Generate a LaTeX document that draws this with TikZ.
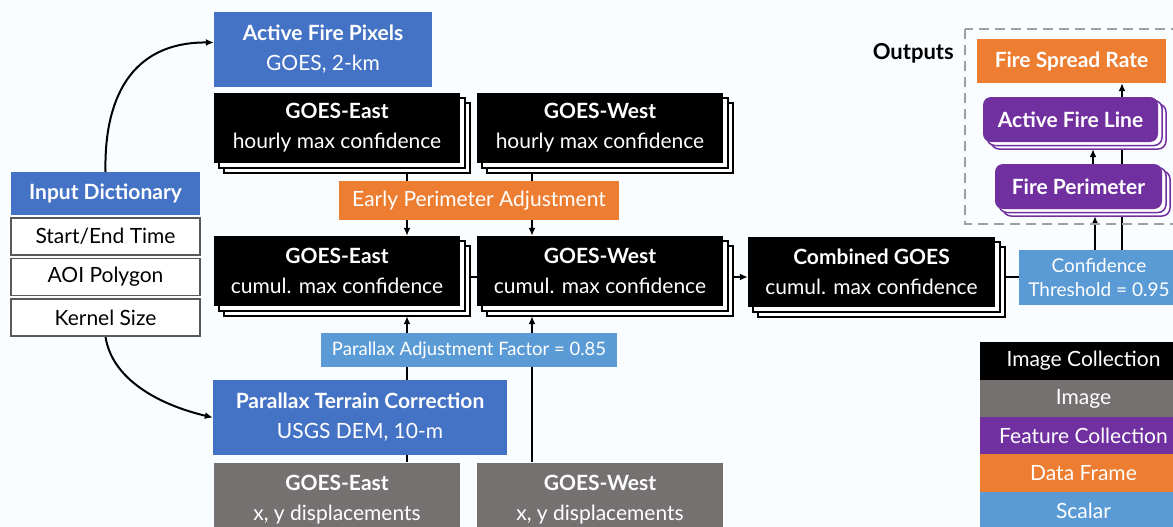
\documentclass[tikz,border=0pt]{standalone}
\usepackage{fontspec}
\setmainfont{Lato}
\usetikzlibrary{arrows.meta,shadows,calc,backgrounds}
\definecolor{cblue}{HTML}{4472C4}
\definecolor{cgrey}{HTML}{767171}
\definecolor{cpurple}{HTML}{7030A0}
\definecolor{corange}{HTML}{ED7D31}
\definecolor{clblue}{HTML}{5B9BD5}
\definecolor{bgcol}{HTML}{F9FDFF}
\definecolor{dashgrey}{HTML}{A0A0A0}
\begin{document}
\begin{tikzpicture}[x=1pt,y=-1pt,
  box/.style={inner sep=0pt, align=center, text=white, font=\fontsize{21}{30}\selectfont},
  imgcoll/.style={box, fill=black, minimum width=246pt, minimum height=70pt,
    double copy shadow={shadow xshift=5pt, shadow yshift=-5pt, fill=white, draw=black, line width=1.5pt}},
  featcoll/.style={box, fill=cpurple, rounded corners=8pt, minimum height=45pt, font=\fontsize{21}{30}\selectfont\bfseries,
    double copy shadow={shadow xshift=4pt, shadow yshift=-3.5pt, fill=white, draw=cpurple, line width=1.5pt}},
  bluebox/.style={box, fill=cblue},
  greybox/.style={box, fill=cgrey, minimum width=246pt, minimum height=75pt},
  dictitem/.style={box, text=black, fill=white, draw=black!65, line width=1.2pt, minimum width=189pt, minimum height=37pt},
  legitem/.style={box, font=\fontsize{21}{24}\selectfont, minimum width=207pt, minimum height=38pt},
  conn/.style={line width=2pt},
  arr/.style={line width=2pt, -{Latex[length=8pt,width=7pt]}},
]
\useasboundingbox (0,0) rectangle (1173,527);

% nodes
\node[bluebox, minimum width=218pt, minimum height=75pt] (afp) at (323,49.5) {\textbf{Active Fire Pixels}\\GOES, 2-km};
\node[imgcoll] (eh) at (337,128) {\textbf{GOES-East}\\hourly max confidence};
\node[imgcoll] (wh) at (600,128) {\textbf{GOES-West}\\hourly max confidence};
\node[box, fill=corange, minimum width=280pt, minimum height=39pt] (epa) at (479,200.5) {Early Perimeter Adjustment};
\node[imgcoll] (ec) at (337,271) {\textbf{GOES-East}\\cumul. max confidence};
\node[imgcoll] (wc) at (600,271) {\textbf{GOES-West}\\cumul. max confidence};
\node[imgcoll, minimum width=247pt] (comb) at (871.5,272) {\textbf{Combined GOES}\\cumul. max confidence};
\node[box, fill=clblue, minimum width=160pt, minimum height=55pt, font=\fontsize{19}{24}\selectfont] (conf) at (1099,277.5) {Confidence\\Threshold = 0.95};

\node[box, fill=corange, minimum width=189pt, minimum height=44pt, font=\fontsize{21}{30}\selectfont\bfseries] (fsr) at (1071.5,61) {Fire Spread Rate};
\node[featcoll, minimum width=175pt] (afl) at (1070.5,119.5) {Active Fire Line};
\node[featcoll, minimum width=167pt] (fp) at (1078.5,186.5) {Fire Perimeter};
\draw[dashgrey, line width=2pt, dash pattern=on 10pt off 6pt] (965,29) rectangle (1190,224);
\node[anchor=east, inner sep=0pt, font=\fontsize{22}{26}\selectfont\bfseries] (outl) at (954,53) {Outputs};

\node[bluebox, minimum width=189pt, minimum height=43pt, font=\fontsize{21}{30}\selectfont\bfseries] (idict) at (105.5,193.5) {Input Dictionary};
\node[dictitem] (st) at (105.5,236.5) {Start/End Time};
\node[dictitem] (aoi) at (105.5,277) {AOI Polygon};
\node[dictitem] (ks) at (105.5,317.5) {Kernel Size};

\node[box, fill=clblue, minimum width=296pt, minimum height=34pt, font=\fontsize{18.5}{24}\selectfont] (paf) at (469,350) {Parallax Adjustment Factor = 0.85};
\node[bluebox, minimum width=294pt, minimum height=75pt] (ptc) at (360,417.5) {\textbf{Parallax Terrain Correction}\\USGS DEM, 10-m};
\node[greybox] (ge) at (337,500) {\textbf{GOES-East}\\x, y displacements};
\node[greybox] (gw) at (600,500) {\textbf{GOES-West}\\x, y displacements};

% legend
\node[legitem, fill=black] (lg1) at (1083.5,360.5) {Image Collection};
\node[legitem, fill=cgrey] (lg2) at (1083.5,398.5) {Image};
\node[legitem, fill=cpurple] (lg3) at (1083.5,435.5) {Feature Collection};
\node[legitem, fill=corange] (lg4) at (1083.5,473) {Data Frame};
\node[legitem, fill=clblue] (lg5) at (1083.5,511) {Scalar};

% helper coordinates
\coordinate (xE) at (407,0);
\coordinate (xW) at (532,0);
\coordinate (yL) at (0,277);
\coordinate (xA) at (1095,0);
\coordinate (xB) at (1122,0);
\coordinate (xC) at (1093,0);

\begin{scope}[on background layer]
\fill[bgcol] (0,0) rectangle (1173,527);
\draw[arr] (idict.north) .. controls (104,100) and (130,42) .. ($(afp.west)+(0,-7)$);
\draw[arr] (ks.south) .. controls (112,380) and (160,405) .. (ptc.west);
\draw[arr] (eh.south -| xE) -- (ec.north -| xE);
\draw[arr] (wh.south -| xW) -- (wc.north -| xW);
\draw[arr] (ge.north -| xE) -- ($(ec.south -| xE)+(0,10)$);
\draw[arr] (gw.north -| xW) -- ($(wc.south -| xW)+(0,10)$);
\draw[conn] (ec.east |- yL) -- (wc.west |- yL);
\draw[arr] (wc.east |- yL) -- (comb.west |- yL);
\draw[conn] (comb.east |- yL) -- (conf.west |- yL);
\draw[arr] (conf.north -| xA) -- ($(fp.south -| xA)+(0,7)$);
\draw[arr] (conf.north -| xB) -- (fsr.south -| xB);
\draw[arr] (fp.north -| xC) -- ($(afl.south -| xC)+(0,7)$);
\end{scope}
\end{tikzpicture}
\end{document}
